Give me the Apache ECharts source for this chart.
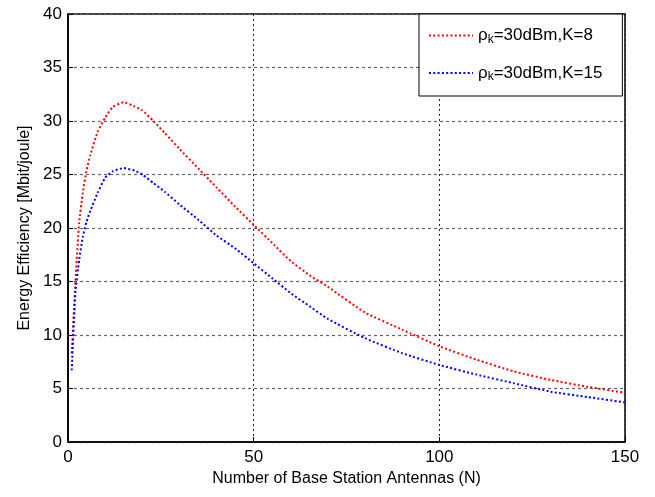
<!DOCTYPE html>
<html>
<head>
<meta charset="utf-8">
<script src="https://cdn.jsdelivr.net/npm/echarts@6/dist/echarts.min.js"></script>
<style>html,body{margin:0;padding:0;background:#fff;}#c{width:655px;height:497px;}</style>
</head>
<body>
<div id="c"></div>
<script>
const antennas = [1, 2, 3, 4, 5, 6, 8, 10, 12, 15, 18, 20, 23, 26, 30, 35, 40, 45, 50, 55, 60, 65, 70, 80, 90, 100, 110, 120, 130, 140, 150];
const eeK8 = [8.3, 15.0, 20.5, 23.3, 25.4, 26.8, 29.0, 30.3, 31.3, 31.75, 31.35, 31.0, 30.0, 28.9, 27.4, 25.6, 23.8, 22.0, 20.3, 18.6, 16.9, 15.6, 14.5, 12.1, 10.5, 8.95, 7.7, 6.6, 5.8, 5.15, 4.6];
const eeK15 = [6.7, 14.0, 17.0, 19.2, 20.6, 21.6, 23.3, 24.7, 25.3, 25.6, 25.35, 25.0, 24.2, 23.4, 22.2, 20.8, 19.3, 18.1, 16.7, 15.3, 13.9, 12.7, 11.5, 9.7, 8.3, 7.2, 6.3, 5.5, 4.7, 4.2, 3.7];
const seriesNames = ['ρk=30dBm,K=8', 'ρk=30dBm,K=15'];
const legendTexts = { 'ρk=30dBm,K=8': '=30dBm,K=8', 'ρk=30dBm,K=15': '=30dBm,K=15' };
const xTicks = [0, 50, 100, 150];
const yTicks = [0, 5, 10, 15, 20, 25, 30, 35, 40];

const font = 'Liberation Sans, Arial, sans-serif';
const chart = echarts.init(document.getElementById('c'), null, { renderer: 'canvas' });
function pairs(xs, ys) { return xs.map((x, i) => [x, ys[i]]); }
chart.setOption({
  animation: false,
  backgroundColor: '#fff',
  grid: { left: 68, right: 30, top: 14, bottom: 55, show: true, borderColor: '#000', borderWidth: 1.5, backgroundColor: 'transparent' },
  legend: {
    orient: 'vertical', left: 419, top: 14,
    data: seriesNames,
    backgroundColor: '#fff', borderColor: '#000', borderWidth: 1,
    padding: [13, 20, 13, 9], itemGap: 19, itemWidth: 44, itemHeight: 14,
    itemStyle: { opacity: 0 },
    lineStyle: { inactiveWidth: 2 },
    formatter: n => '{a|ρ}{s|k}{a|' + legendTexts[n] + '}',
    textStyle: {
      rich: {
        a: { fontFamily: font, fontSize: 17, color: '#000' },
        s: { fontFamily: font, fontSize: 12, color: '#000', verticalAlign: 'bottom', padding: [8, 0, 0, 0] }
      }
    }
  },
  xAxis: {
    type: 'value', min: 0, max: 150, interval: 50,
    name: 'Number of Base Station Antennas (N)', nameLocation: 'middle', nameGap: 23,
    nameTextStyle: { fontFamily: font, fontSize: 16, color: '#000' },
    axisLine: { show: true, lineStyle: { color: '#000', width: 1.5 } },
    axisTick: { show: true, inside: true, length: 5, lineStyle: { color: '#000' } },
    axisLabel: { fontFamily: font, fontSize: 17, color: '#000', margin: 7, formatter: v => xTicks.includes(v) ? String(v) : '' },
    splitLine: { show: true, lineStyle: { color: '#222', type: [2, 3], width: 1 } }
  },
  yAxis: {
    type: 'value', min: 0, max: 40, interval: 5,
    name: 'Energy Efficiency [Mbit/joule]', nameLocation: 'middle', nameGap: 31,
    nameTextStyle: { fontFamily: font, fontSize: 16, color: '#000' },
    axisLine: { show: true, lineStyle: { color: '#000', width: 1.5 } },
    axisTick: { show: true, inside: true, length: 5, lineStyle: { color: '#000' } },
    axisLabel: { fontFamily: font, fontSize: 17, color: '#000', margin: 6, formatter: v => yTicks.includes(v) ? String(v) : '' },
    splitLine: { show: true, lineStyle: { color: '#666', type: [3, 3], width: 1.2 } }
  },
  series: [
    { name: seriesNames[0], type: 'line', data: pairs(antennas, eeK8), symbol: 'none', smooth: 0.15,
      color: '#ff0000', lineStyle: { color: '#ff0000', width: 2, type: [2, 2.3] } },
    { name: seriesNames[1], type: 'line', data: pairs(antennas, eeK15), symbol: 'none', smooth: 0.15,
      color: '#0000ff', lineStyle: { color: '#0000ff', width: 2, type: [2, 2.3] } }
  ]
});
</script>
</body>
</html>
